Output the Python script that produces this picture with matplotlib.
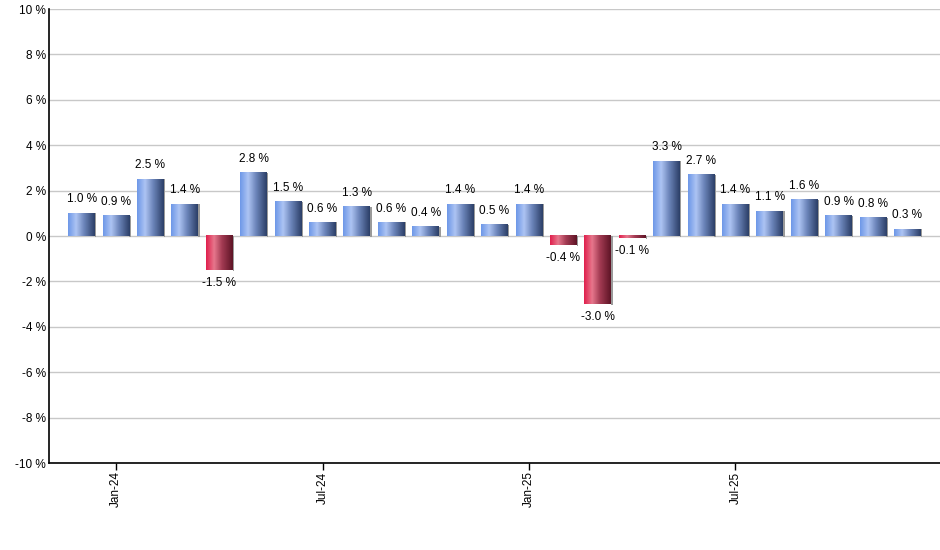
import numpy as np
import matplotlib
matplotlib.use('Agg')
import matplotlib.pyplot as plt
from matplotlib.colors import LinearSegmentedColormap

plt.rcParams['font.family'] = ['Liberation Sans', 'DejaVu Sans']

# monthly change, Dec-23 .. Dec-25
months = ['Dec-23', 'Jan-24', 'Feb-24', 'Mar-24', 'Apr-24', 'May-24', 'Jun-24', 'Jul-24',
          'Aug-24', 'Sep-24', 'Oct-24', 'Nov-24', 'Dec-24', 'Jan-25', 'Feb-25', 'Mar-25',
          'Apr-25', 'May-25', 'Jun-25', 'Jul-25', 'Aug-25', 'Sep-25', 'Oct-25', 'Nov-25', 'Dec-25']
changes = [1.0, 0.9, 2.5, 1.4, -1.5, 2.8, 1.5, 0.6, 1.3, 0.6, 0.4, 1.4, 0.5, 1.4,
           -0.4, -3.0, -0.1, 3.3, 2.7, 1.4, 1.1, 1.6, 0.9, 0.8, 0.3]
tick_labels = ['Jan-24', 'Jul-24', 'Jan-25', 'Jul-25']
y_ticks = list(range(-10, 11, 2))

blue_cmap = LinearSegmentedColormap.from_list(
    'blue', [(0.0, '#6e98e8'), (0.3, '#adc4f3'), (0.6, '#6c85ba'), (1.0, '#2c3f68')])
red_cmap = LinearSegmentedColormap.from_list(
    'red', [(0.0, '#e0204d'), (0.3, '#e7778c'), (0.6, '#a23a52'), (1.0, '#5e1426')])

fig = plt.figure(figsize=(9.4, 5.5), dpi=100)
ax = fig.add_axes([0.0521, 0.158, 0.948, 0.8255])

x = np.arange(len(changes))
width = 0.78
bars = ax.bar(x, changes, width=width, color='none', edgecolor='none', zorder=3)

grad = np.linspace(0, 1, 64).reshape(1, -1)
for rect, val in zip(bars, changes):
    x0 = rect.get_x()
    y0, y1 = sorted([0, val])
    cmap = blue_cmap if val >= 0 else red_cmap
    # small shadow on the right edge
    ax.fill_between([x0 + width, x0 + width + 0.04], y0 - 0.03, y1,
                    color='#9a9a9a', linewidth=0, zorder=2)
    ax.imshow(grad, cmap=cmap, aspect='auto', extent=[x0, x0 + width, y0, y1],
              interpolation='bilinear', zorder=3)
    if val >= 0:
        ax.text(rect.get_x() + width / 2, val + 0.35, f'{val:.1f} %',
                ha='center', va='bottom', fontsize=8.5, color='black')
    else:
        ax.text(rect.get_x() + width / 2, val - 0.3, f'{val:.1f} %',
                ha='center', va='top', fontsize=8.5, color='black')

ax.set_xlim(-0.95, 24.95)
ax.set_ylim(-10, 10)
ax.set_yticks(y_ticks)
ax.set_yticklabels([f'{v} %' for v in y_ticks], fontsize=8.5)
ax.set_xticks([months.index(m) for m in tick_labels])
ax.set_xticklabels(tick_labels, rotation=90, fontsize=8.5)
ax.tick_params(axis='y', length=0, pad=2)
ax.tick_params(axis='x', length=5, width=1, direction='out', pad=1)

ax.grid(axis='y', color='#c8c8c8', linewidth=1, zorder=0)
ax.set_axisbelow(True)
ax.spines['top'].set_visible(False)
ax.spines['right'].set_visible(False)
ax.spines['left'].set_linewidth(1.2)
ax.spines['bottom'].set_linewidth(1.2)

fig.savefig('out.png', dpi=100)
